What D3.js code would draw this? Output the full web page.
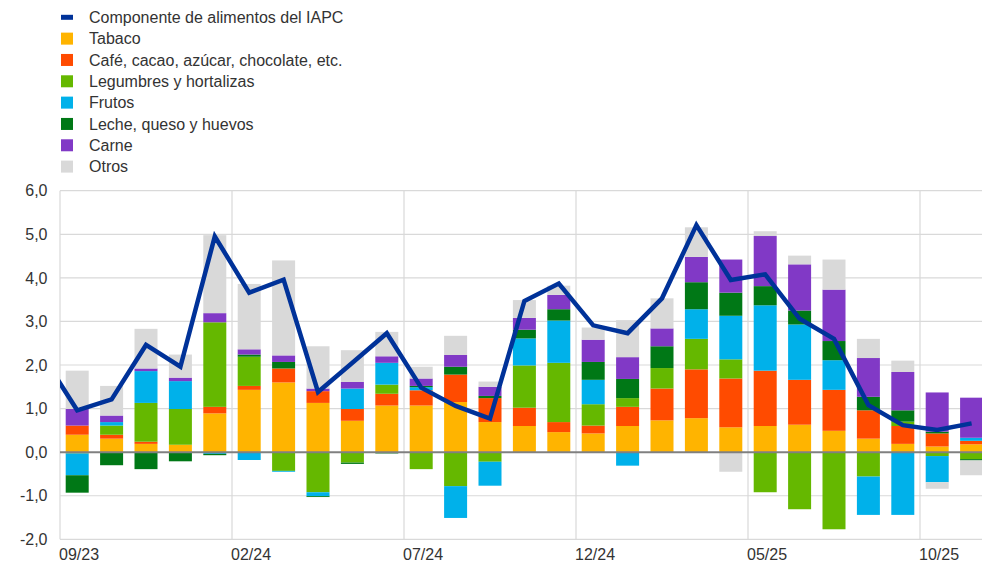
<!DOCTYPE html>
<html>
<head>
<meta charset="utf-8">
<script src="https://cdn.jsdelivr.net/npm/d3@7"></script>
<style>
  html, body { margin: 0; padding: 0; background: #fff; }
  svg { display: block; font-family: "Liberation Sans", Arial, sans-serif; }
</style>
</head>
<body>
<svg id="chart" width="982" height="564"></svg>
<script>
// ---------- DATA ----------
const months = ["09/23","10/23","11/23","12/23","01/24","02/24","03/24","04/24","05/24","06/24",
  "07/24","08/24","09/24","10/24","11/24","12/24","01/25","02/25","03/25","04/25",
  "05/25","06/25","07/25","08/25","09/25","10/25","11/25"];
const tickLabels = ["09/23","02/24","07/24","12/24","05/25","10/25"];
const yTicks = [-2, -1, 0, 1, 2, 3, 4, 5, 6];

const tabaco     = [0.40,0.31,0.19,0.17,0.89,1.43,1.60,1.13,0.72,1.07,1.07,1.15,0.69,0.60,0.46,0.43,0.60,0.73,0.78,0.57,0.60,0.63,0.49,0.31,0.19,0.13,0.18];
const cafe       = [0.21,0.09,0.05,0.00,0.15,0.09,0.32,0.27,0.27,0.27,0.35,0.63,0.55,0.42,0.23,0.18,0.44,0.73,1.12,1.12,1.27,1.03,0.94,0.65,0.41,0.30,0.08];
const legumbres  = [-0.03,0.21,0.89,0.82,1.94,0.67,-0.43,-0.92,-0.24,0.21,-0.39,-0.78,-0.22,0.97,1.36,0.49,0.20,0.47,0.70,0.44,-0.92,-1.31,-1.77,-0.56,0.10,-0.09,-0.16];
const frutos     = [-0.50,0.08,0.73,0.64,-0.04,-0.18,-0.02,-0.09,0.47,0.50,0.07,-0.73,-0.55,0.62,0.97,0.56,-0.31,0.00,0.68,1.00,1.50,1.27,0.68,-0.88,-1.44,-0.60,0.07];
const leche      = [-0.40,-0.30,-0.39,-0.21,-0.03,0.05,0.15,-0.02,-0.03,-0.03,0.03,0.18,0.05,0.20,0.26,0.41,0.44,0.50,0.62,0.53,0.44,0.32,0.44,0.31,0.26,0.04,-0.03];
const carne      = [0.38,0.15,0.06,0.08,0.21,0.12,0.15,0.06,0.15,0.15,0.17,0.27,0.21,0.27,0.33,0.51,0.50,0.41,0.58,0.76,1.15,1.06,1.18,0.89,0.88,0.90,0.92];
const otros      = [0.88,0.68,0.91,0.53,1.79,1.50,2.18,0.97,0.73,0.56,0.27,0.44,0.12,0.41,0.21,0.28,0.85,0.69,0.68,-0.45,0.11,0.20,0.69,0.44,0.26,-0.15,-0.34];

// headline line; first value is 08/23 (drawn outside the plot, clipped)
const iapcLeadIn = 2.20;
const iapc       = [0.96,1.21,2.46,1.96,4.95,3.66,3.96,1.38,2.05,2.73,1.48,1.06,0.77,3.47,3.87,2.91,2.73,3.53,5.21,3.95,4.08,3.06,2.60,1.08,0.62,0.51,0.66];

const seriesNames  = ["Tabaco","Café, cacao, azúcar, chocolate, etc.","Legumbres y hortalizas","Frutos","Leche, queso y huevos","Carne","Otros"];
const seriesValues = [tabaco, cafe, legumbres, frutos, leche, carne, otros];
const seriesColors = ["#FFB400","#FF4B00","#65B800","#00B1EA","#007816","#8139C6","#D9D9D9"];
const lineName  = "Componente de alimentos del IAPC";
const lineColor = "#003299";

// ---------- LAYOUT ----------
const svg = d3.select("#chart");
const W = 982, H = 564;
const plotLeft = 60, step = 34.4;
const plotTop = 190.7, plotBottom = 539.3;

const x = d3.scaleLinear().domain([0, months.length]).range([plotLeft, plotLeft + months.length * step]);
const y = d3.scaleLinear().domain([-2, 6]).range([plotBottom, plotTop]);
const barW = 23;

// grid
const grid = svg.append("g");
grid.selectAll("line.h").data(yTicks.filter(v => v !== 0)).join("line")
  .attr("x1", plotLeft).attr("x2", W)
  .attr("y1", d => y(d)).attr("y2", d => y(d))
  .attr("stroke", "#d9d9d9").attr("stroke-width", 1.2);
grid.selectAll("line.v").data(tickLabels).join("line")
  .attr("x1", d => x(months.indexOf(d))).attr("x2", d => x(months.indexOf(d)))
  .attr("y1", plotTop).attr("y2", plotBottom)
  .attr("stroke", "#d9d9d9").attr("stroke-width", 1.2);

// y labels
svg.append("g").selectAll("text").data(yTicks).join("text")
  .attr("x", 47.5).attr("y", d => y(d)).attr("dy", "0.36em")
  .attr("text-anchor", "end").attr("font-size", 16).attr("fill", "#333")
  .text(d => d3.format(".1f")(d).replace(".", ",").replace("−", "-"));

// x labels
svg.append("g").selectAll("text").data(tickLabels).join("text")
  .attr("x", d => x(months.indexOf(d)) - 1).attr("y", 560)
  .attr("font-size", 16).attr("fill", "#333")
  .text(d => d);

// stacked bars
const table = months.map((m, i) => {
  const row = { month: m, i };
  seriesNames.forEach((n, k) => row[n] = seriesValues[k][i]);
  return row;
});
const stack = d3.stack().keys(seriesNames).offset(d3.stackOffsetDiverging)(table);

const bars = svg.append("g");
stack.forEach((layer, k) => {
  bars.append("g").attr("fill", seriesColors[k])
    .selectAll("rect").data(layer).join("rect")
    .attr("x", d => x(d.data.i + 0.5) - barW / 2)
    .attr("width", barW)
    .attr("y", d => y(Math.max(d[0], d[1])))
    .attr("height", d => Math.abs(y(d[0]) - y(d[1])));
});

// zero line
svg.append("line")
  .attr("x1", plotLeft).attr("x2", W).attr("y1", y(0)).attr("y2", y(0))
  .attr("stroke", "#808080").attr("stroke-width", 2);

// line
svg.append("clipPath").attr("id", "plotclip").append("rect")
  .attr("x", plotLeft).attr("y", 0).attr("width", W - plotLeft).attr("height", H);
const linePts = [[-1, iapcLeadIn]].concat(iapc.map((v, i) => [i, v]));
svg.append("path")
  .attr("clip-path", "url(#plotclip)")
  .attr("d", d3.line().x(d => x(d[0] + 0.5)).y(d => y(d[1]))(linePts))
  .attr("fill", "none").attr("stroke", lineColor).attr("stroke-width", 4.5)
  .attr("stroke-linejoin", "miter");

// legend
const legend = svg.append("g");
const rowY = i => 17.3 + i * 21.33;
legend.append("rect").attr("x", 61).attr("y", rowY(0) - 2.5).attr("width", 12).attr("height", 5).attr("fill", lineColor);
legend.append("text").attr("x", 89).attr("y", rowY(0) + 5.8).attr("font-size", 16).attr("fill", "#333").text(lineName);
seriesNames.forEach((n, k) => {
  legend.append("rect").attr("x", 61).attr("y", rowY(k + 1) - 6).attr("width", 12).attr("height", 12).attr("fill", seriesColors[k]);
  legend.append("text").attr("x", 89).attr("y", rowY(k + 1) + 5.8).attr("font-size", 16).attr("fill", "#333").text(n);
});
</script>
</body>
</html>
